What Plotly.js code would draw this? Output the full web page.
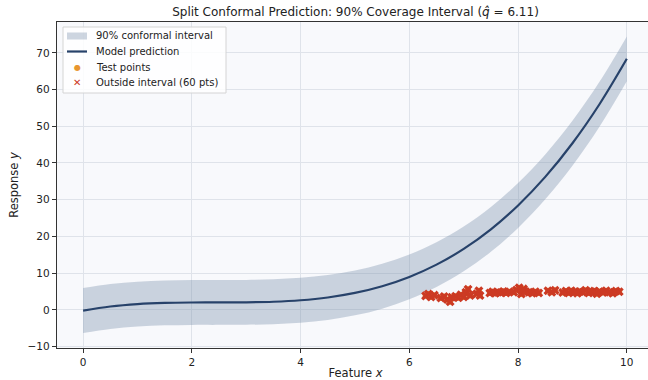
<!DOCTYPE html>
<html>
<head>
<meta charset="utf-8">
<script src="https://cdn.plot.ly/plotly-3.0.1.min.js"></script>
<style>
html,body{margin:0;padding:0;overflow:hidden;background:#fff;}
#chart{width:660px;height:380px;}
</style>
</head>
<body>
<div id="chart"></div>
<script>
// Prediction grid
const gridX = [0,0.5,1,1.5,2,2.5,3,3.5,4,4.5,5,5.5,6,6.5,7,7.5,8,8.5,9,9.5,10];
const predY = [-0.2,0.90,1.56,1.89,2.00,2.01,2.04,2.20,2.60,3.36,4.60,6.43,8.96,12.31,16.59,21.92,28.43,36.21,45.38,56.07,68.37];
const upperY = [5.91,7.01,7.67,8.00,8.11,8.12,8.15,8.31,8.71,9.47,10.71,12.54,15.07,18.42,22.70,28.03,34.54,42.32,51.49,62.18,74.48];
const lowerY = [-6.31,-5.21,-4.55,-4.22,-4.11,-4.10,-4.07,-3.91,-3.51,-2.75,-1.51,0.32,2.85,6.20,10.48,15.81,22.32,30.10,39.27,49.96,62.26];

// Test points (all visible ones lie outside the interval)
const testX = [6.30,6.35,6.40,6.46, 6.58,6.64,6.70,6.75,6.78,
  6.85,6.90,6.95,7.00,7.04,7.08,7.12, 7.24,7.28,7.30,
  7.48,7.53,7.58,7.63,7.68,7.73,7.78,7.84,7.92,
  7.97,8.02,8.06,8.10,8.14, 8.20,8.26,8.32,8.38, 8.55,8.62,8.68,
  8.82,8.88,8.93,8.98,9.04,9.09,9.14,9.19,9.24,9.30,9.35,9.40,9.45,9.50,9.56,9.62,9.68,9.74,9.80,9.86];
const testY = [3.8,4.3,3.5,4.0, 3.2,3.6,2.8,2.2,3.4,
  3.7,3.3,4.1,3.5,4.8,5.6,3.9, 4.4,5.2,3.9,
  4.6,4.9,4.5,4.8,4.7,5.0,4.6,4.9,4.8,
  5.4,6.0,4.3,5.7,5.0, 4.8,4.5,4.9,4.6, 5.2,4.8,5.3,
  4.7,5.1,4.6,5.2,4.9,4.5,5.0,4.8,5.3,4.6,4.9,5.1,4.4,5.0,4.7,5.2,4.8,4.5,5.1,4.9];

const xTicks = [0,2,4,6,8,10];
const yTicks = [-10,0,10,20,30,40,50,60,70];
const legendLabels = ['90% conformal interval','Model prediction','Test points','Outside interval (60 pts)'];

const BAND = 'rgba(120,140,170,0.36)';
const LINE = '#27426a';
const ORANGE = '#e8952f';
const RED = '#cc3a24';

const traces = [
  {x: gridX, y: lowerY, type:'scatter', mode:'lines', line:{width:0, shape:'spline'}, showlegend:false, hoverinfo:'skip'},
  {x: gridX, y: upperY, type:'scatter', mode:'lines', line:{width:0, shape:'spline'}, fill:'tonexty',
   fillcolor:BAND, name:legendLabels[0], showlegend:false},
  {x: gridX, y: predY, type:'scatter', mode:'lines', line:{color:LINE, width:2.2, shape:'spline'}, name:legendLabels[1], showlegend:false},
  {x: testX, y: testY, type:'scatter', mode:'markers', marker:{color:ORANGE, size:6}, name:legendLabels[2], showlegend:false},
  {x: testX, y: testY, type:'scatter', mode:'markers', marker:{color:RED, size:8, symbol:'x', line:{width:0}}, name:legendLabels[3], showlegend:false}
];

// Custom compact legend (paper coordinates of the plot area)
const plotL = 57, plotR = 654, plotT = 22, plotB = 348;
const px = v => (v - plotL) / (plotR - plotL);
const py = v => (plotB - v) / (plotB - plotT);
const rowsY = [36, 51.5, 67, 82];
const shapes = [
  {type:'rect', xref:'paper', yref:'paper', x0:px(63), x1:px(226), y0:py(93), y1:py(27),
   fillcolor:'rgba(255,255,255,0.85)', line:{color:'#d4d4d4', width:1}, layer:'above'},
  {type:'rect', xref:'paper', yref:'paper', x0:px(67), x1:px(87), y0:py(rowsY[0]+3.5), y1:py(rowsY[0]-3.5),
   fillcolor:BAND, line:{width:0}, layer:'above'},
  {type:'line', xref:'paper', yref:'paper', x0:px(67), x1:px(87), y0:py(rowsY[1]), y1:py(rowsY[1]),
   line:{color:LINE, width:2.2}, layer:'above'}
];
const annotations = legendLabels.map((t, i) => ({
  text:t, xref:'paper', yref:'paper', x:px(94), y:py(rowsY[i]), xanchor:'left', yanchor:'middle',
  showarrow:false, font:{family:'DejaVu Sans', size:10, color:'#222'}
}));
annotations.push({text:'●', xref:'paper', yref:'paper', x:px(77), y:py(rowsY[2]), xanchor:'center', yanchor:'middle',
  showarrow:false, font:{family:'DejaVu Sans', size:8, color:ORANGE}});
annotations.push({text:'✕', xref:'paper', yref:'paper', x:px(77), y:py(rowsY[3]), xanchor:'center', yanchor:'middle',
  showarrow:false, font:{family:'DejaVu Sans', size:10, color:RED}});

const axisCommon = {
  showline:true, linecolor:'#333', linewidth:1.2, mirror:true,
  ticks:'outside', ticklen:4, tickcolor:'#333', tickwidth:1,
  showgrid:true, gridcolor:'#dfe3ea', gridwidth:1, zeroline:false,
  tickfont:{family:'DejaVu Sans', size:10.5, color:'#222'}
};

const layout = {
  width:660, height:380,
  margin:{l:57, r:6, t:22, b:32},
  paper_bgcolor:'#ffffff', plot_bgcolor:'#f8f9fc',
  font:{family:'DejaVu Sans', color:'#222'},
  title:{text:'Split Conformal Prediction: 90% Coverage Interval (<i>q\u0302</i> = 6.11)',
    font:{family:'DejaVu Sans', size:12, color:'#222'}, x:0.5, xref:'paper', y:0.968, yref:'container', yanchor:'middle'},
  xaxis: Object.assign({}, axisCommon, {range:[-0.48,10.5], tickvals:xTicks,
    title:{text:'Feature <i>x</i>', font:{family:'DejaVu Sans', size:11.5}, standoff:2}}),
  yaxis: Object.assign({}, axisCommon, {range:[-10.4,78.4], tickvals:yTicks,
    title:{text:'Response <i>y</i>', font:{family:'DejaVu Sans', size:11.5}, standoff:6}}),
  shapes: shapes,
  annotations: annotations,
  showlegend:false
};

Plotly.newPlot('chart', traces, layout, {displayModeBar:false, staticPlot:true});
</script>
</body>
</html>
